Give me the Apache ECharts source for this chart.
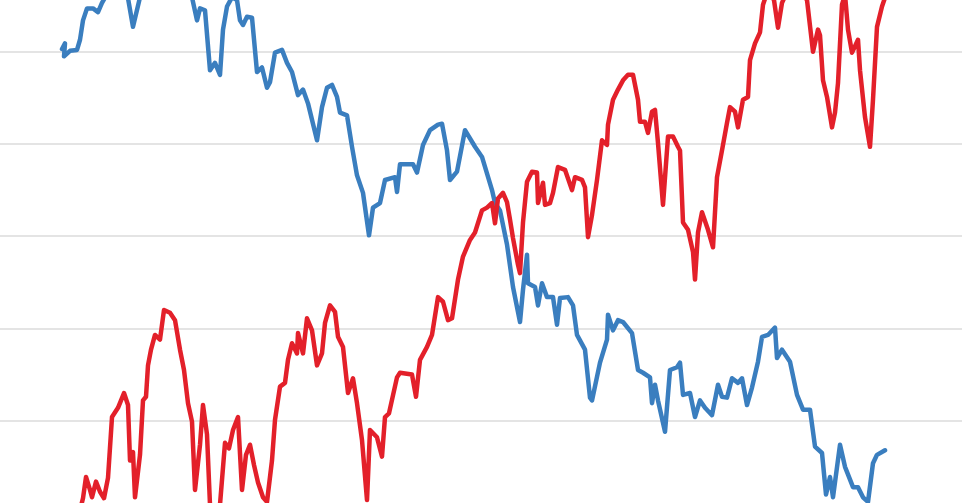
<!DOCTYPE html>
<html>
<head>
<meta charset="utf-8">
<script src="https://cdn.jsdelivr.net/npm/echarts@6/dist/echarts.min.js"></script>
<style>
html,body{margin:0;padding:0;background:#ffffff;}
#chart{width:962px;height:503px;}
</style>
</head>
<body>
<div id="chart"></div>
<script>
// Blue series: day index and value
var blueDays = [0,3,2,8,15,18,21,25,31,36,40,50,58,66,71,78,88,103,118,130,135,138,143,148,153,158,161,165,170,175,178,181,185,190,195,200,205,208,213,220,225,230,236,241,246,255,260,265,270,275,278,285,290,295,301,307,311,318,323,333,335,338,351,355,361,368,376,380,385,388,395,403,405,413,420,430,433,438,445,451,458,461,465,466,473,476,480,485,491,495,498,506,511,515,523,528,530,538,545,546,551,556,561,570,576,581,588,590,593,596,603,608,615,618,621,628,633,638,643,650,656,660,665,670,676,680,685,690,696,700,706,713,715,720,728,735,741,748,753,760,764,768,771,778,783,791,796,801,806,811,815,823];
var blueValues = [503,509,495,501,502,513,534,547,547,543,553,572,567,558,527,559,578,589,578,559,534,547,545,480,488,475,524,549,559,556,534,529,538,537,478,483,461,467,499,502,488,478,453,459,444,404,440,461,464,451,434,431,397,366,347,301,331,336,361,364,348,378,378,369,399,415,421,422,393,361,370,415,417,397,386,350,336,328,291,245,207,242,280,249,245,225,249,234,234,204,233,234,225,193,177,125,122,163,188,215,198,209,207,195,155,152,147,119,139,122,88,155,158,163,128,130,104,122,114,106,139,126,125,146,141,146,117,136,164,191,193,201,168,177,164,128,112,112,72,65,20,39,17,74,50,28,28,17,12,54,63,68];

// Red series: day index and value
var redDays = [18,21,24,28,30,34,38,42,46,50,56,62,66,68,71,73,78,81,84,86,89,93,98,102,108,113,118,122,126,130,133,138,141,145,148,153,158,163,167,171,176,180,184,188,192,196,201,205,210,213,218,223,226,230,235,236,241,245,250,255,260,263,268,273,276,281,286,291,295,300,305,308,315,320,323,327,335,338,350,354,358,365,370,376,381,386,390,396,401,408,413,420,425,430,433,436,441,445,448,451,456,458,461,465,470,475,476,481,483,488,491,496,503,510,513,520,523,526,530,535,540,545,546,551,556,561,566,571,576,578,583,586,590,593,596,601,606,611,616,618,621,626,631,633,636,640,646,651,655,660,665,668,673,676,681,686,688,693,698,701,706,712,716,720,728,738,745,751,756,758,761,765,770,773,776,780,783,786,790,796,798,803,808,811,815,820,825];
var redValues = [3,16,39,25,17,34,23,16,38,104,114,130,117,57,66,17,63,122,126,160,177,193,188,220,217,209,177,155,119,99,25,74,117,85,9,-8,9,76,70,90,104,25,63,74,52,33,17,12,57,101,137,141,166,184,173,195,173,211,198,160,173,206,225,218,191,180,130,146,119,79,14,90,82,61,104,108,147,152,150,126,166,180,193,234,229,209,211,253,278,296,304,328,331,336,314,341,347,337,318,298,269,260,315,359,370,369,336,358,334,336,347,375,372,350,364,361,353,299,323,361,404,399,421,448,459,469,475,475,448,424,424,412,435,437,401,334,408,408,397,393,315,307,283,253,304,326,307,288,364,393,423,440,435,418,448,451,491,509,521,551,567,556,526,553,572,567,556,500,524,518,469,451,418,434,466,551,562,524,499,513,480,429,397,448,527,549,565];

function pairs(days, values) {
  var out = [];
  for (var i = 0; i < days.length; i++) out.push([days[i], values[i]]);
  return out;
}

var chart = echarts.init(document.getElementById('chart'), null, {renderer: 'canvas'});
chart.setOption({
  backgroundColor: '#ffffff',
  animation: false,
  grid: {left: 0, right: 0, top: 0, bottom: 0, containLabel: false},
  xAxis: {
    type: 'value', min: -62, max: 900,
    axisLine: {show: false}, axisTick: {show: false}, axisLabel: {show: false},
    splitLine: {show: false}
  },
  yAxis: {
    type: 'value', min: 10.8, max: 556.1, splitNumber: 5,
    axisLine: {show: false}, axisTick: {show: false}, axisLabel: {show: false},
    splitLine: {show: true, showMinLine: false, showMaxLine: false, lineStyle: {color: '#e4e4e4', width: 2}}
  },
  series: [
    {
      name: 'Blue', type: 'line', data: pairs(blueDays, blueValues),
      showSymbol: false, symbol: 'none', smooth: false,
      lineStyle: {color: '#3a7ebf', width: 4.5, join: 'round', cap: 'round'}
    },
    {
      name: 'Red', type: 'line', data: pairs(redDays, redValues),
      showSymbol: false, symbol: 'none', smooth: false,
      lineStyle: {color: '#e3202a', width: 4.5, join: 'round', cap: 'round'}
    }
  ]
});
</script>
</body>
</html>
